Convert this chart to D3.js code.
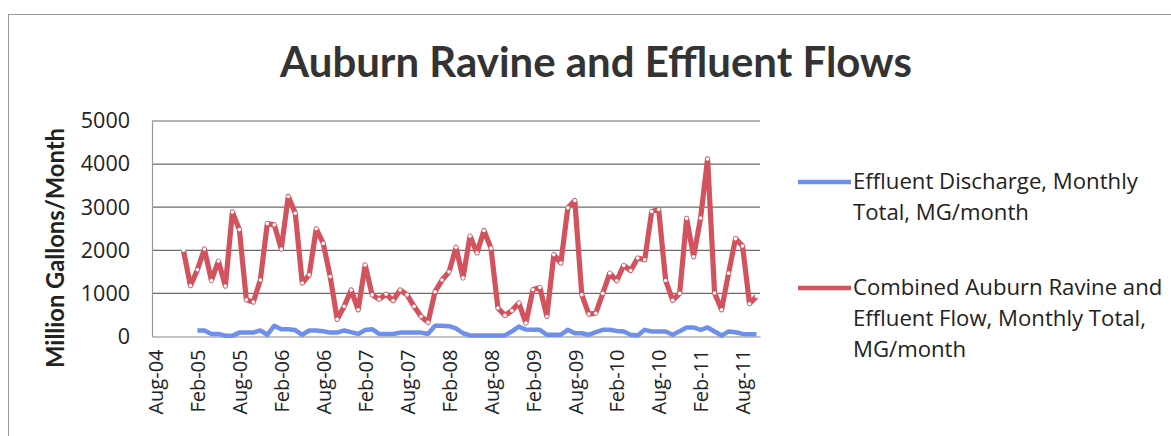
<!DOCTYPE html>
<html>
<head>
<meta charset="utf-8">
<script src="https://cdn.jsdelivr.net/npm/d3@7"></script>
<style>
  html, body { margin: 0; padding: 0; background: #fff; }
  svg { display: block; font-family: Lato, "Open Sans", sans-serif; }
</style>
</head>
<body>
<svg id="chart" width="1171" height="436"></svg>
<script>
// ---- data ----
const startMonth = new Date(2004, 7, 1);   // Aug-04
const endMonth = new Date(2011, 9, 1);     // Oct-11
const months = d3.timeMonth.range(startMonth, d3.timeMonth.offset(endMonth, 1));

const tickLabels = ["Aug-04","Feb-05","Aug-05","Feb-06","Aug-06","Feb-07","Aug-07","Feb-08",
                    "Aug-08","Feb-09","Aug-09","Feb-10","Aug-10","Feb-11","Aug-11"];

// Effluent Discharge, Monthly Total (MG/month), Aug-04 .. Oct-11
const effluent = [null,null,null,null,null,null,
  140,140,60,60,20,15,90,90,90,140,40,250,170,170,150,40,140,140,120,90,90,140,100,60,
  150,170,60,60,60,90,90,90,90,60,250,250,240,190,75,25,25,25,25,25,25,120,230,160,155,
  155,40,40,40,155,75,75,40,100,155,155,130,115,40,25,155,115,115,115,40,120,210,210,155,
  210,115,25,115,100,60,55,50];

// Combined Auburn Ravine and Effluent Flow, Monthly Total (MG/month), Aug-04 .. Oct-11
const combined = [null,null,null,null,
  2000,1180,1550,2030,1300,1750,1170,2890,2480,850,800,1310,2620,2590,2030,3250,2860,1240,
  1430,2500,2160,1390,400,700,1080,620,1660,965,865,980,835,1080,965,700,465,330,1040,1310,
  1500,2070,1360,2330,1940,2460,2050,660,490,600,775,310,1085,1140,465,1900,1705,2985,3155,
  970,520,540,1000,1470,1295,1650,1530,1820,1780,2900,2945,1300,840,1000,2740,1850,2750,4120,
  1010,620,1470,2270,2100,760,930];

const yTicks = [0, 1000, 2000, 3000, 4000, 5000];

const colors = ["#6e90ea", "#d2525e"];

// ---- layout ----
const svg = d3.select("#chart");
const plot = { left: 152, right: 760, top: 121, bottom: 336.5 };

const fmt = d3.timeFormat("%b-%y");
const x = d3.scalePoint().domain(months.map(fmt)).range([plot.left, plot.right]).padding(0.5);
const y = d3.scaleLinear().domain([0, 5000]).range([plot.bottom, plot.top]);

function fit(sel, target) {
  const fs = parseFloat(sel.attr("font-size"));
  const w = sel.node().getComputedTextLength();
  const nf = fs * target / w;
  sel.attr("font-size", nf.toFixed(2));
  return nf;
}

// outer frame
svg.append("rect").attr("x", 8.5).attr("y", 14.5).attr("width", 1200).attr("height", 500)
  .attr("fill", "none").attr("stroke", "#9a9a9a").attr("stroke-width", 1);

// title
const title = svg.append("text").attr("x", 596).attr("y", 77).attr("text-anchor", "middle")
  .attr("font-weight", "bold").attr("font-size", 36).attr("fill", "#333")
  .text("Auburn Ravine and Effluent Flows");
fit(title, 632);

// gridlines
svg.append("g").selectAll("line").data(yTicks.filter(d => d > 0)).join("line")
  .attr("x1", plot.left).attr("x2", plot.right)
  .attr("y1", d => y(d)).attr("y2", d => y(d))
  .attr("stroke", "#6a6a6a").attr("stroke-width", 1.2);

// y axis
const yAxis = svg.append("g").attr("transform", `translate(${plot.left},0)`)
  .call(d3.axisLeft(y).tickValues(yTicks).tickSize(0).tickPadding(22).tickFormat(d3.format("d")));
yAxis.select(".domain").attr("stroke", "#999").attr("stroke-width", 1.2);
yAxis.selectAll("text").attr("font-size", 21.5).attr("font-family", "'Open Sans', sans-serif").attr("fill", "#222");

// x axis
const xAxis = svg.append("g").attr("transform", `translate(0,${plot.bottom})`)
  .call(d3.axisBottom(x).tickValues(tickLabels).tickSize(0).tickPadding(0));
xAxis.select(".domain").attr("stroke", "#888").attr("stroke-width", 1.2);
xAxis.selectAll("text")
  .attr("font-size", 20).attr("font-family", "'Open Sans', sans-serif").attr("fill", "#222")
  .attr("transform", "rotate(-90)")
  .attr("text-anchor", "end").attr("x", -13).attr("y", 0).attr("dy", "0.36em");

// y axis title
const yTitle = svg.append("text")
  .attr("transform", `translate(64,248) rotate(-90)`)
  .attr("text-anchor", "middle").attr("font-weight", "bold").attr("font-size", 21).attr("fill", "#222")
  .text("Million Gallons/Month");
fit(yTitle, 240);

// lines
const line = d3.line().defined(d => d.v != null).x(d => x(d.m)).y(d => y(d.v));
const effData = months.map((m, i) => ({ m: fmt(m), v: effluent[i] }));
const combData = months.map((m, i) => ({ m: fmt(m), v: combined[i] }));

svg.append("path").datum(effData).attr("d", line).attr("fill", "none")
  .attr("stroke", colors[0]).attr("stroke-width", 4.5).attr("stroke-linejoin", "round");
svg.append("path").datum(combData).attr("d", line).attr("fill", "none")
  .attr("stroke", colors[1]).attr("stroke-width", 5.2).attr("stroke-linejoin", "round");
svg.append("g").selectAll("circle").data(combData.filter(d => d.v != null)).join("circle")
  .attr("cx", d => x(d.m)).attr("cy", d => y(d.v)).attr("r", 1.8).attr("fill", "#fff");

// legend
const legend = [
  { lines: ["Effluent Discharge, Monthly", "Total, MG/month"], y: 182, color: colors[0] },
  { lines: ["Combined Auburn Ravine and", "Effluent Flow, Monthly Total,", "MG/month"], y: 288, color: colors[1] }
];
// size legend font from first line width
const probe = svg.append("text").attr("font-family", "'Open Sans', sans-serif").attr("font-size", 19)
  .text(legend[0].lines[0]);
const legendFs = fit(probe, 285);
probe.remove();
legend.forEach((L) => {
  svg.append("line").attr("x1", 798).attr("x2", 851).attr("y1", L.y).attr("y2", L.y)
    .attr("stroke", L.color).attr("stroke-width", 4.5);
  const t = svg.append("text").attr("x", 853).attr("y", L.y + 6.5)
    .attr("font-family", "'Open Sans', sans-serif").attr("font-size", legendFs).attr("fill", "#222");
  L.lines.forEach((s, i) => {
    t.append("tspan").attr("x", 853).attr("dy", i === 0 ? 0 : 31).text(s);
  });
});
</script>
</body>
</html>
